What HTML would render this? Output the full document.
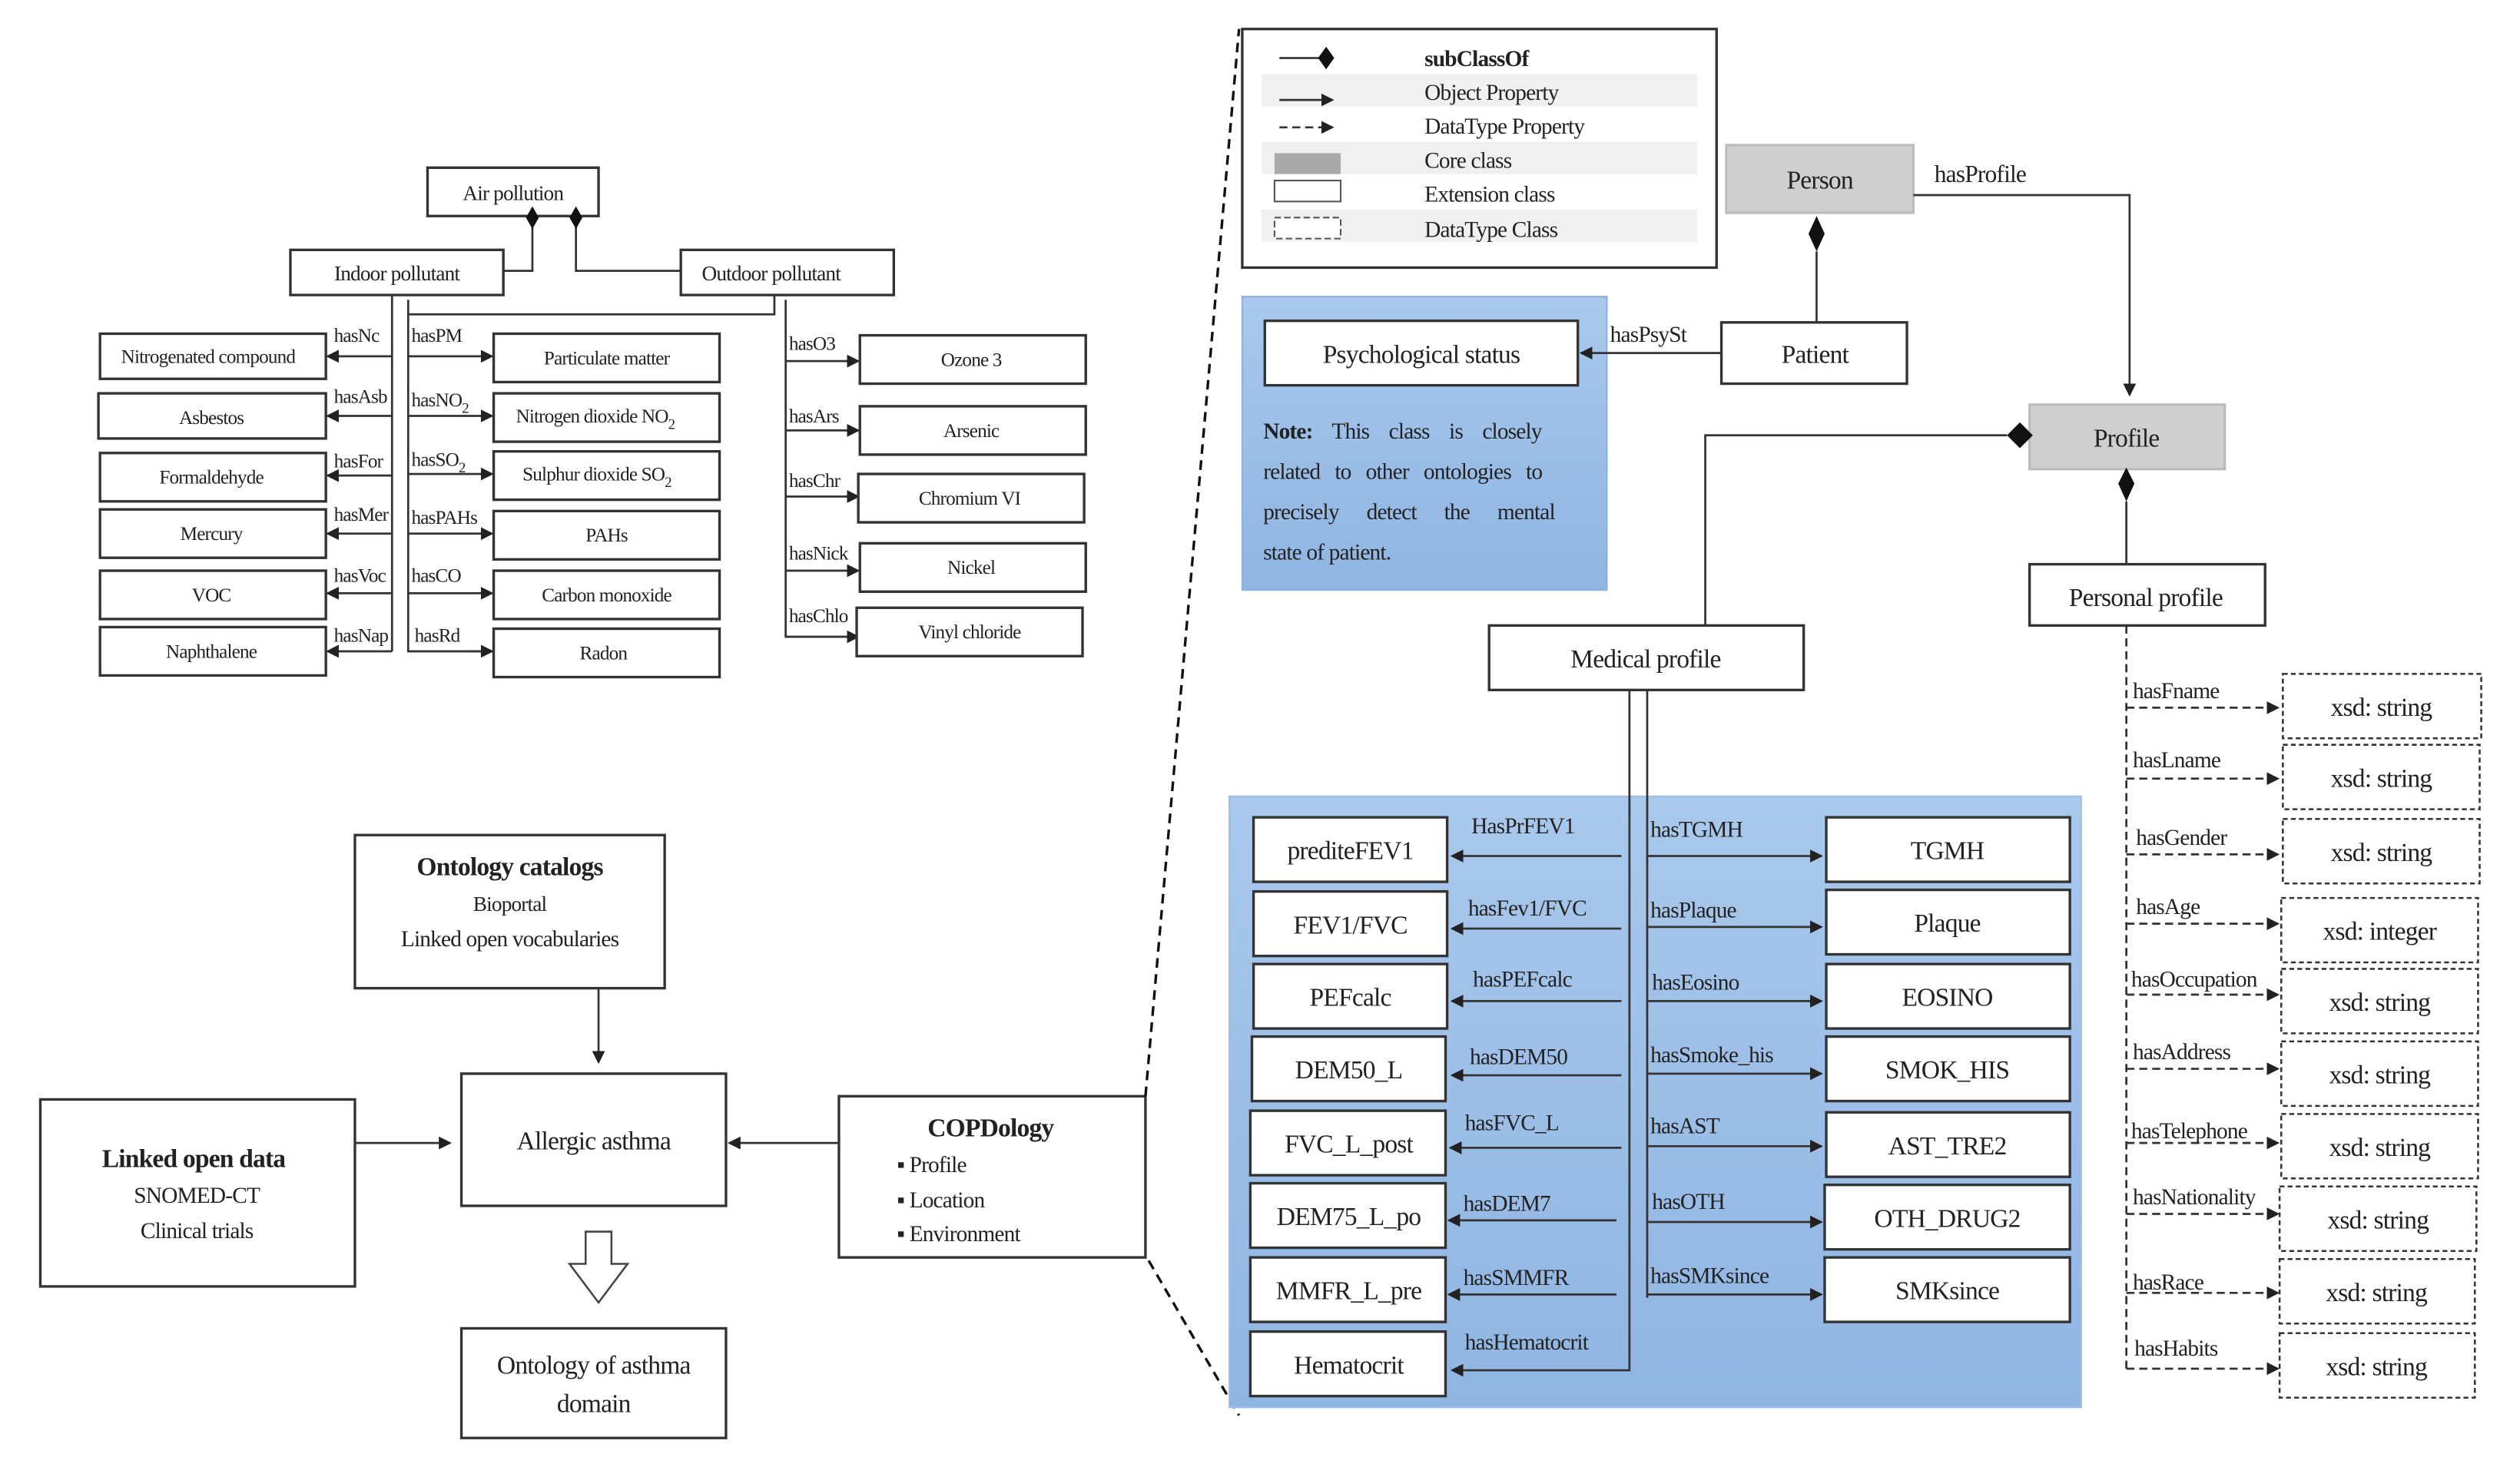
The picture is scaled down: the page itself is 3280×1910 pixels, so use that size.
<!DOCTYPE html>
<html><head><meta charset="utf-8"><style>
html,body{margin:0;padding:0;background:#fff;}
svg{display:block;}
text{font-family:"Liberation Serif","DejaVu Serif",serif;fill:#222;letter-spacing:-0.4px;}
.b{fill:#fff;stroke:#333;stroke-width:1.6;}
.g{fill:#cfcfcf;stroke:#bbb;stroke-width:1.5;}
.l{stroke:#333;stroke-width:1.3;fill:none;}
.d{stroke:#333;stroke-width:1.3;fill:none;stroke-dasharray:5,3;}
.db{fill:#fff;stroke:#333;stroke-width:1.2;stroke-dasharray:3,2;}
.s{font-size:12px;}
.m{font-size:13px;}
.t{font-size:16px;}
</style></head><body>
<svg width="3280" height="1910" viewBox="0 0 1562 910" preserveAspectRatio="none" xmlns="http://www.w3.org/2000/svg">
<defs>
<marker id="a" markerWidth="8" markerHeight="8" refX="7" refY="4" orient="auto" markerUnits="userSpaceOnUse"><path d="M0,0 L8,4 L0,8 z" fill="#222"/></marker>
<linearGradient id="bl" x1="0" y1="0" x2="0" y2="1"><stop offset="0" stop-color="#a9c8ec"/><stop offset="1" stop-color="#8fb5e2"/></linearGradient>
</defs>
<rect width="1562" height="910" fill="#fff"/>

<!-- TOP LEFT -->
<rect class="b" x="265" y="104" width="106" height="30"/><text class="m" x="318" y="124" text-anchor="middle">Air pollution</text>
<rect class="b" x="180" y="155" width="132" height="28"/><text class="m" x="246" y="174" text-anchor="middle">Indoor pollutant</text>
<rect class="b" x="422" y="155" width="132" height="28"/><text class="m" x="478" y="174" text-anchor="middle">Outdoor pollutant</text>
<polyline class="l" points="312,168 330,168 330,140"/>
<polyline class="l" points="422,168 357,168 357,140"/>
<polygon points="330,128 334,135 330,142 326,135" fill="#111"/>
<polygon points="357,128 361,135 357,142 353,135" fill="#111"/>
<line class="l" x1="243" y1="183" x2="243" y2="404"/>
<polyline class="l" points="253,186 253,404 306,404"/>
<polyline class="l" points="253,195 480,195 480,183"/>
<polyline class="l" points="487,186 487,395 533,395"/>

<g class="s">
<line class="l" x1="243" y1="221" x2="203" y2="221" marker-end="url(#a)"/><text x="207" y="212">hasNc</text>
<line class="l" x1="243" y1="258" x2="203" y2="258" marker-end="url(#a)"/><text x="207" y="250">hasAsb</text>
<line class="l" x1="243" y1="295" x2="203" y2="295" marker-end="url(#a)"/><text x="207" y="290">hasFor</text>
<line class="l" x1="243" y1="331" x2="203" y2="331" marker-end="url(#a)"/><text x="207" y="323">hasMer</text>
<line class="l" x1="243" y1="368" x2="203" y2="368" marker-end="url(#a)"/><text x="207" y="361">hasVoc</text>
<line class="l" x1="243" y1="404" x2="203" y2="404" marker-end="url(#a)"/><text x="207" y="398">hasNap</text>
<line class="l" x1="253" y1="221" x2="305" y2="221" marker-end="url(#a)"/><text x="255" y="212">hasPM</text>
<line class="l" x1="253" y1="258" x2="305" y2="258" marker-end="url(#a)"/><text x="255" y="252">hasNO<tspan font-size="9" dy="4">2</tspan></text>
<line class="l" x1="253" y1="294" x2="305" y2="294" marker-end="url(#a)"/><text x="255" y="289">hasSO<tspan font-size="9" dy="4">2</tspan></text>
<line class="l" x1="253" y1="331" x2="305" y2="331" marker-end="url(#a)"/><text x="255" y="325">hasPAHs</text>
<line class="l" x1="253" y1="368" x2="305" y2="368" marker-end="url(#a)"/><text x="255" y="361">hasCO</text>
<text x="257" y="398">hasRd</text>
<line class="l" x1="487" y1="224" x2="532" y2="224" marker-end="url(#a)"/><text x="489" y="217">hasO3</text>
<line class="l" x1="487" y1="267" x2="532" y2="267" marker-end="url(#a)"/><text x="489" y="262">hasArs</text>
<line class="l" x1="487" y1="308" x2="532" y2="308" marker-end="url(#a)"/><text x="489" y="302">hasChr</text>
<line class="l" x1="487" y1="354" x2="532" y2="354" marker-end="url(#a)"/><text x="489" y="347">hasNick</text>
<line class="l" x1="487" y1="395" x2="532" y2="395" marker-end="url(#a)"/><text x="489" y="386">hasChlo</text>
</g>
<line class="l" x1="290" y1="404" x2="305" y2="404" marker-end="url(#a)"/>

<g class="s">
<rect class="b" x="62" y="207" width="140" height="28"/><text x="129" y="225" text-anchor="middle">Nitrogenated compound</text>
<rect class="b" x="61" y="244" width="141" height="28"/><text x="131" y="263" text-anchor="middle">Asbestos</text>
<rect class="b" x="62" y="281" width="140" height="30"/><text x="131" y="300" text-anchor="middle">Formaldehyde</text>
<rect class="b" x="62" y="316" width="140" height="30"/><text x="131" y="335" text-anchor="middle">Mercury</text>
<rect class="b" x="62" y="354" width="140" height="30"/><text x="131" y="373" text-anchor="middle">VOC</text>
<rect class="b" x="62" y="389" width="140" height="30"/><text x="131" y="408" text-anchor="middle">Naphthalene</text>
<rect class="b" x="306" y="207" width="140" height="30"/><text x="376" y="226" text-anchor="middle">Particulate matter</text>
<rect class="b" x="306" y="244" width="140" height="30"/><text x="369" y="262" text-anchor="middle">Nitrogen dioxide NO<tspan font-size="9" dy="4">2</tspan></text>
<rect class="b" x="306" y="280" width="140" height="30"/><text x="370" y="298" text-anchor="middle">Sulphur dioxide SO<tspan font-size="9" dy="4">2</tspan></text>
<rect class="b" x="306" y="317" width="140" height="30"/><text x="376" y="336" text-anchor="middle">PAHs</text>
<rect class="b" x="306" y="354" width="140" height="30"/><text x="376" y="373" text-anchor="middle">Carbon monoxide</text>
<rect class="b" x="306" y="390" width="140" height="30"/><text x="374" y="409" text-anchor="middle">Radon</text>
<rect class="b" x="533" y="208" width="140" height="30"/><text x="602" y="227" text-anchor="middle">Ozone 3</text>
<rect class="b" x="533" y="252" width="140" height="30"/><text x="602" y="271" text-anchor="middle">Arsenic</text>
<rect class="b" x="532" y="294" width="140" height="30"/><text x="601" y="313" text-anchor="middle">Chromium VI</text>
<rect class="b" x="533" y="337" width="140" height="30"/><text x="602" y="356" text-anchor="middle">Nickel</text>
<rect class="b" x="531" y="377" width="140" height="30"/><text x="601" y="396" text-anchor="middle">Vinyl chloride</text>
</g>

<!-- BOTTOM LEFT -->
<rect class="b" x="220" y="518" width="192" height="95"/>
<text x="316" y="543" font-size="16" font-weight="bold" text-anchor="middle">Ontology catalogs</text>
<text class="m" x="316" y="565" font-size="14" text-anchor="middle">Bioportal</text>
<text x="316" y="587" font-size="14" text-anchor="middle">Linked open vocabularies</text>
<line class="l" x1="371" y1="613" x2="371" y2="659" marker-end="url(#a)"/>
<rect class="b" x="286" y="666" width="164" height="82"/><text class="t" x="368" y="713" text-anchor="middle">Allergic asthma</text>
<rect class="b" x="25" y="682" width="195" height="116"/>
<text x="120" y="724" font-size="16" font-weight="bold" text-anchor="middle">Linked open data</text>
<text x="122" y="746" font-size="14" text-anchor="middle">SNOMED-CT</text>
<text x="122" y="768" font-size="14" text-anchor="middle">Clinical trials</text>
<line class="l" x1="220" y1="709" x2="279" y2="709" marker-end="url(#a)"/>
<rect class="b" x="520" y="680" width="190" height="100"/>
<text x="614" y="705" font-size="16" font-weight="bold" text-anchor="middle">COPDology</text>
<text x="556" y="727" font-size="14">▪ Profile</text>
<text x="556" y="749" font-size="14">▪ Location</text>
<text x="556" y="770" font-size="14">▪ Environment</text>
<line class="l" x1="520" y1="709" x2="452" y2="709" marker-end="url(#a)"/>
<polygon points="363,764 379,764 379,784 389,784 371,808 353,784 363,784" fill="#fff" stroke="#444" stroke-width="1.2"/>
<rect class="b" x="286" y="824" width="164" height="68"/>
<text class="t" x="368" y="852" text-anchor="middle">Ontology of asthma</text>
<text class="t" x="368" y="876" text-anchor="middle">domain</text>
<line x1="710" y1="680" x2="768" y2="18" stroke="#111" stroke-width="1.6" stroke-dasharray="6,4"/>
<line x1="712" y1="782" x2="768" y2="878" stroke="#111" stroke-width="1.6" stroke-dasharray="6,4"/>

<!-- LEGEND -->
<rect class="b" x="770" y="18" width="294" height="148"/>
<rect x="782" y="46" width="270" height="20" fill="#f0f0f0"/>
<rect x="782" y="88" width="270" height="20" fill="#f0f0f0"/>
<rect x="782" y="130" width="270" height="20" fill="#f0f0f0"/>
<line class="l" x1="793" y1="36" x2="818" y2="36"/><polygon points="822,29 827,36 822,43 817,36" fill="#111"/>
<line class="l" x1="793" y1="62" x2="826" y2="62" marker-end="url(#a)"/>
<line class="d" x1="793" y1="79" x2="826" y2="79" marker-end="url(#a)"/>
<rect x="790" y="95" width="41" height="13" fill="#aaa"/>
<rect x="790" y="112" width="41" height="13" fill="#fff" stroke="#555"/>
<rect x="790" y="135" width="41" height="13" fill="#fff" stroke="#555" stroke-dasharray="4,2"/>
<g font-size="14">
<text x="883" y="41" font-weight="bold">subClassOf</text>
<text x="883" y="62">Object Property</text>
<text x="883" y="83">DataType Property</text>
<text x="883" y="104">Core class</text>
<text x="883" y="125">Extension class</text>
<text x="883" y="147">DataType Class</text>
</g>

<!-- PERSON / PROFILE -->
<rect class="g" x="1070" y="90" width="116" height="42"/><text class="t" x="1128" y="117" text-anchor="middle">Person</text>
<text x="1199" y="113" font-size="15">hasProfile</text>
<polyline class="l" points="1186,121 1320,121 1320,245" marker-end="url(#a)"/>
<polygon points="1126,134 1131,145 1126,156 1121,145" fill="#111"/>
<line class="l" x1="1126" y1="156" x2="1126" y2="200"/>
<rect class="b" x="1067" y="200" width="115" height="38"/><text class="t" x="1125" y="225" text-anchor="middle">Patient</text>
<rect x="770" y="184" width="226" height="182" fill="url(#bl)" stroke="#8db0dc"/>
<rect class="b" x="784" y="199" width="194" height="40"/><text class="t" x="881" y="225" text-anchor="middle">Psychological status</text>
<line class="l" x1="1067" y1="219" x2="980" y2="219" marker-end="url(#a)"/>
<text x="998" y="212" font-size="14">hasPsySt</text>
<g font-size="14">
<text x="783" y="272" word-spacing="9"><tspan font-weight="bold">Note:</tspan> This class is closely</text>
<text x="783" y="297" word-spacing="6">related to other ontologies to</text>
<text x="783" y="322" word-spacing="14">precisely detect the mental</text>
<text x="783" y="347">state of patient.</text>
</g>
<rect class="g" x="1258" y="251" width="121" height="40"/><text class="t" x="1318" y="277" text-anchor="middle">Profile</text>
<polygon points="1244,270 1252,262 1260,270 1252,278" fill="#111"/>
<polyline class="l" points="1244,270 1057,270 1057,388"/>
<polygon points="1318,290 1323,300 1318,311 1313,300" fill="#111"/>
<line class="l" x1="1318" y1="311" x2="1318" y2="350"/>
<rect class="b" x="1258" y="350" width="146" height="38"/><text class="t" x="1330" y="376" text-anchor="middle">Personal profile</text>
<rect class="b" x="923" y="388" width="195" height="40"/><text class="t" x="1020" y="414" text-anchor="middle">Medical profile</text>

<!-- MEDICAL -->
<rect x="762" y="494" width="528" height="379" fill="url(#bl)" stroke="#9ebde3"/>
<line class="l" x1="1021" y1="428" x2="1021" y2="805"/>
<polyline class="l" points="1010,428 1010,850 900,850" marker-end="url(#a)"/>
<g font-size="16">
<rect class="b" x="777" y="507" width="120" height="40"/><text x="837" y="533" text-anchor="middle">prediteFEV1</text>
<rect class="b" x="777" y="553" width="120" height="40"/><text x="837" y="579" text-anchor="middle">FEV1/FVC</text>
<rect class="b" x="777" y="598" width="120" height="40"/><text x="837" y="624" text-anchor="middle">PEFcalc</text>
<rect class="b" x="776" y="643" width="120" height="40"/><text x="836" y="669" text-anchor="middle">DEM50_L</text>
<rect class="b" x="775" y="689" width="121" height="40"/><text x="836" y="715" text-anchor="middle">FVC_L_post</text>
<rect class="b" x="775" y="734" width="121" height="40"/><text x="836" y="760" text-anchor="middle">DEM75_L_po</text>
<rect class="b" x="775" y="780" width="121" height="40"/><text x="836" y="806" text-anchor="middle">MMFR_L_pre</text>
<rect class="b" x="775" y="826" width="121" height="40"/><text x="836" y="852" text-anchor="middle">Hematocrit</text>
<rect class="b" x="1132" y="507" width="151" height="40"/><text x="1207" y="533" text-anchor="middle">TGMH</text>
<rect class="b" x="1132" y="552" width="151" height="40"/><text x="1207" y="578" text-anchor="middle">Plaque</text>
<rect class="b" x="1132" y="598" width="151" height="40"/><text x="1207" y="624" text-anchor="middle">EOSINO</text>
<rect class="b" x="1132" y="643" width="151" height="40"/><text x="1207" y="669" text-anchor="middle">SMOK_HIS</text>
<rect class="b" x="1132" y="690" width="151" height="40"/><text x="1207" y="716" text-anchor="middle">AST_TRE2</text>
<rect class="b" x="1131" y="735" width="152" height="40"/><text x="1207" y="761" text-anchor="middle">OTH_DRUG2</text>
<rect class="b" x="1131" y="780" width="152" height="40"/><text x="1207" y="806" text-anchor="middle">SMKsince</text>
</g>
<g font-size="14">
<line class="l" x1="1005" y1="531" x2="900" y2="531" marker-end="url(#a)"/><text x="912" y="517">HasPrFEV1</text>
<line class="l" x1="1005" y1="576" x2="900" y2="576" marker-end="url(#a)"/><text x="910" y="568">hasFev1/FVC</text>
<line class="l" x1="1005" y1="621" x2="900" y2="621" marker-end="url(#a)"/><text x="913" y="612">hasPEFcalc</text>
<line class="l" x1="1005" y1="667" x2="900" y2="667" marker-end="url(#a)"/><text x="911" y="660">hasDEM50</text>
<line class="l" x1="1005" y1="712" x2="899" y2="712" marker-end="url(#a)"/><text x="908" y="701">hasFVC_L</text>
<line class="l" x1="1002" y1="757" x2="898" y2="757" marker-end="url(#a)"/><text x="907" y="751">hasDEM7</text>
<line class="l" x1="1002" y1="803" x2="898" y2="803" marker-end="url(#a)"/><text x="907" y="797">hasSMMFR</text>
<text x="908" y="837">hasHematocrit</text>
<line class="l" x1="1021" y1="531" x2="1129" y2="531" marker-end="url(#a)"/><text x="1023" y="519">hasTGMH</text>
<line class="l" x1="1021" y1="575" x2="1129" y2="575" marker-end="url(#a)"/><text x="1023" y="569">hasPlaque</text>
<line class="l" x1="1021" y1="621" x2="1129" y2="621" marker-end="url(#a)"/><text x="1024" y="614">hasEosino</text>
<line class="l" x1="1021" y1="666" x2="1129" y2="666" marker-end="url(#a)"/><text x="1023" y="659">hasSmoke_his</text>
<line class="l" x1="1021" y1="711" x2="1129" y2="711" marker-end="url(#a)"/><text x="1023" y="703">hasAST</text>
<line class="l" x1="1021" y1="758" x2="1129" y2="758" marker-end="url(#a)"/><text x="1024" y="750">hasOTH</text>
<line class="l" x1="1021" y1="803" x2="1129" y2="803" marker-end="url(#a)"/><text x="1023" y="796">hasSMKsince</text>
</g>

<!-- PERSONAL PROFILE DATATYPES -->
<line class="d" x1="1318" y1="388" x2="1318" y2="850"/>
<g font-size="14">
<line class="d" x1="1318" y1="439" x2="1412" y2="439" marker-end="url(#a)"/><text x="1322" y="433">hasFname</text>
<line class="d" x1="1318" y1="483" x2="1412" y2="483" marker-end="url(#a)"/><text x="1322" y="476">hasLname</text>
<line class="d" x1="1318" y1="530" x2="1412" y2="530" marker-end="url(#a)"/><text x="1324" y="524">hasGender</text>
<line class="d" x1="1318" y1="573" x2="1412" y2="573" marker-end="url(#a)"/><text x="1324" y="567">hasAge</text>
<line class="d" x1="1318" y1="617" x2="1412" y2="617" marker-end="url(#a)"/><text x="1321" y="612">hasOccupation</text>
<line class="d" x1="1318" y1="663" x2="1412" y2="663" marker-end="url(#a)"/><text x="1322" y="657">hasAddress</text>
<line class="d" x1="1318" y1="709" x2="1412" y2="709" marker-end="url(#a)"/><text x="1321" y="706">hasTelephone</text>
<line class="d" x1="1318" y1="753" x2="1412" y2="753" marker-end="url(#a)"/><text x="1322" y="747">hasNationality</text>
<line class="d" x1="1318" y1="802" x2="1412" y2="802" marker-end="url(#a)"/><text x="1322" y="800">hasRace</text>
<line class="d" x1="1318" y1="849" x2="1412" y2="849" marker-end="url(#a)"/><text x="1323" y="841">hasHabits</text>
</g>
<g font-size="16">
<rect class="db" x="1415" y="418" width="123" height="40"/><text x="1476" y="444" text-anchor="middle">xsd: string</text>
<rect class="db" x="1415" y="462" width="122" height="40"/><text x="1476" y="488" text-anchor="middle">xsd: string</text>
<rect class="db" x="1415" y="508" width="122" height="40"/><text x="1476" y="534" text-anchor="middle">xsd: string</text>
<rect class="db" x="1414" y="557" width="122" height="40"/><text x="1475" y="583" text-anchor="middle">xsd: integer</text>
<rect class="db" x="1414" y="601" width="122" height="40"/><text x="1475" y="627" text-anchor="middle">xsd: string</text>
<rect class="db" x="1414" y="646" width="122" height="40"/><text x="1475" y="672" text-anchor="middle">xsd: string</text>
<rect class="db" x="1414" y="691" width="122" height="40"/><text x="1475" y="717" text-anchor="middle">xsd: string</text>
<rect class="db" x="1413" y="736" width="122" height="40"/><text x="1474" y="762" text-anchor="middle">xsd: string</text>
<rect class="db" x="1413" y="781" width="121" height="40"/><text x="1473" y="807" text-anchor="middle">xsd: string</text>
<rect class="db" x="1413" y="827" width="121" height="40"/><text x="1473" y="853" text-anchor="middle">xsd: string</text>
</g>
</svg>
</body></html>
